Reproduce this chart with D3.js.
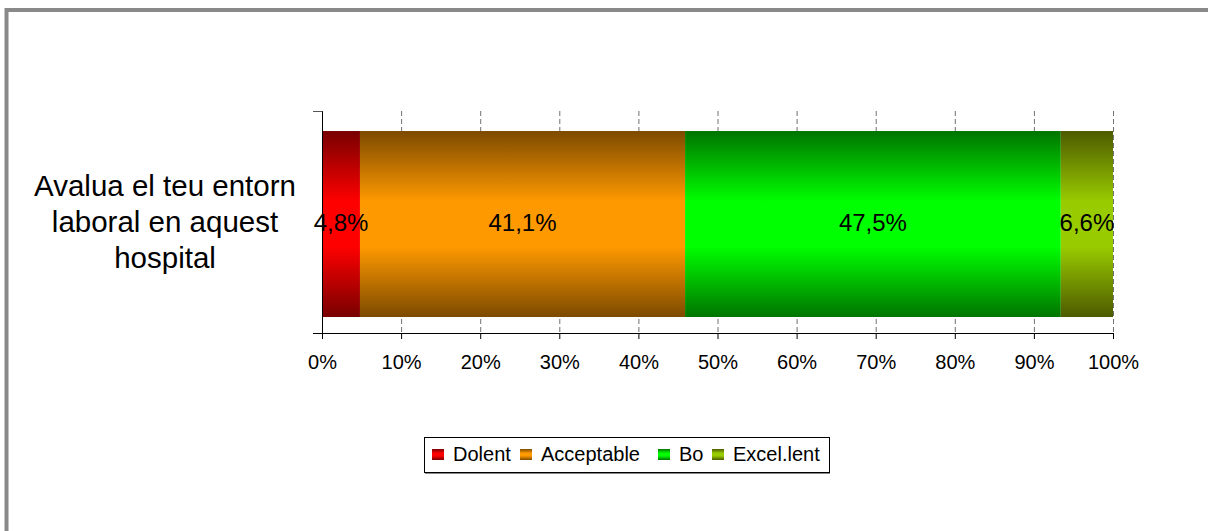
<!DOCTYPE html>
<html><head><meta charset="utf-8">
<script src="https://cdn.jsdelivr.net/npm/d3@7"></script>
<style>body{margin:0;background:#fff}svg{display:block}text{font-family:"Liberation Sans",Arial,sans-serif}</style>
</head><body>
<svg id="c" width="1208" height="531"></svg>
<script>
const categories = ["Avalua el teu entorn laboral en aquest hospital"];
const categoryLines = ["Avalua el teu entorn", "laboral en aquest", "hospital"];
const seriesNames = ["Dolent", "Acceptable", "Bo", "Excel.lent"];
const seriesValues = [4.8, 41.1, 47.5, 6.6];
const valueLabels = ["4,8%", "41,1%", "47,5%", "6,6%"];
const tickValues = [0,10,20,30,40,50,60,70,80,90,100];
const tickLabels = ["0%","10%","20%","30%","40%","50%","60%","70%","80%","90%","100%"];
const darkColors = ["#780000", "#7c4a00", "#007400", "#4d5a00"];
const brightColors = ["#ff0000", "#ff9900", "#00ff00", "#99cc00"];

const svg = d3.select("#c");
const defs = svg.append("defs");
seriesNames.forEach((s,i)=>{
  const g = defs.append("linearGradient").attr("id","g"+i).attr("x1",0).attr("y1",0).attr("x2",0).attr("y2",1);
  g.append("stop").attr("offset","0%").attr("stop-color",darkColors[i]);
  g.append("stop").attr("offset","38%").attr("stop-color",brightColors[i]);
  g.append("stop").attr("offset","62%").attr("stop-color",brightColors[i]);
  g.append("stop").attr("offset","100%").attr("stop-color",darkColors[i]);
});

// outer frame
svg.append("rect").attr("x",6.5).attr("y",10).attr("width",1300).attr("height",600)
  .attr("fill","none").attr("stroke","#898989").attr("stroke-width",4);

const x = d3.scaleLinear().domain([0,100]).range([322,1113]);
const y = d3.scaleBand().domain(categories).range([111,333]).paddingInner(0).paddingOuter(0.0968).align(0.556);

// dashed gridlines
svg.append("g").selectAll("line").data(tickValues.slice(1)).join("line")
  .attr("x1",d=>x(d)+0.5).attr("x2",d=>x(d)+0.5).attr("y1",111).attr("y2",333)
  .attr("stroke","#707070").attr("stroke-width",1).attr("stroke-dasharray","5,3");

// stacked bars
let cum = 0;
const stacks = seriesValues.map(v=>{const s={x0:cum,x1:cum+v}; cum+=v; return s;});
const bw = y.bandwidth();
svg.append("g").selectAll("rect").data(stacks).join("rect")
  .attr("x",d=>x(d.x0)).attr("width",d=>x(Math.min(d.x1,100))-x(d.x0))
  .attr("y",y(categories[0])).attr("height",bw)
  .attr("fill",(d,i)=>"url(#g"+i+")");

// value labels
svg.append("g").selectAll("text").data(stacks).join("text")
  .attr("x",d=>(x(d.x0)+x(Math.min(d.x1,100)))/2).attr("y",y(categories[0])+bw/2+6.5)
  .attr("text-anchor","middle").attr("font-size",24).attr("fill","#000")
  .text((d,i)=>valueLabels[i]);

// left axis
svg.append("line").attr("x1",322.5).attr("x2",322.5).attr("y1",111).attr("y2",333.5).attr("stroke","#000");
svg.append("line").attr("x1",313).attr("x2",322.5).attr("y1",111.5).attr("y2",111.5).attr("stroke","#555");

// bottom axis
const axis = d3.axisBottom(x).tickValues(tickValues).tickFormat((d,i)=>tickLabels[i]).tickSize(6).tickPadding(16);
const ag = svg.append("g").attr("transform","translate(0,333)").call(axis);
ag.select(".domain").remove();
ag.append("line").attr("x1",313).attr("x2",1113.5).attr("y1",0.5).attr("y2",0.5).attr("stroke","#000");
ag.selectAll(".tick line").attr("stroke","#000").attr("y1",0);
ag.selectAll(".tick text").attr("font-size",20).attr("fill","#000").attr("font-family","Liberation Sans, Arial, sans-serif");

// category label
svg.append("g").selectAll("text").data(categoryLines).join("text")
  .attr("x",165).attr("y",(d,i)=>196+i*36).attr("text-anchor","middle")
  .attr("font-size",29.5).attr("fill","#000").text(d=>d);

// legend
const legendX = [432, 520, 658, 712];
const legend = svg.append("g");
legend.append("rect").attr("x",424.5).attr("y",437.5).attr("width",405).attr("height",35)
  .attr("fill","#fff").attr("stroke","#000");
legend.append("line").attr("x1",425).attr("x2",830).attr("y1",473.5).attr("y2",473.5).attr("stroke","#888");
const li = legend.selectAll("g.it").data(seriesNames).join("g").attr("class","it");
li.append("rect").attr("x",(d,i)=>legendX[i]).attr("y",449).attr("width",12).attr("height",11)
  .attr("fill",(d,i)=>"url(#g"+i+")");
li.append("text").attr("x",(d,i)=>legendX[i]+21).attr("y",461).attr("font-size",20).attr("fill","#000").text(d=>d);
</script>
</body></html>
